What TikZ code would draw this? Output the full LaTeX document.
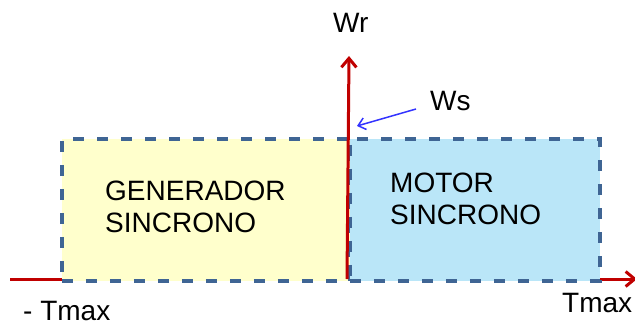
\documentclass[tikz,border=0pt]{standalone}
\usepackage{fontspec}
\setmainfont{Liberation Sans}
\usetikzlibrary{arrows.meta}
\definecolor{axisred}{HTML}{C00000}
\definecolor{edgeblue}{HTML}{3F6594}
\definecolor{genfill}{HTML}{FFFFCC}
\definecolor{motfill}{HTML}{BAE6F8}
\definecolor{wsblue}{HTML}{3333FF}
\begin{document}
\begin{tikzpicture}[x=1pt, y=-1pt,
  axis/.style={axisred, line width=3pt, -{Straight Barb[length=9pt, width=15pt]}},
  zone/.style={draw=edgeblue, line width=3.5pt, dash pattern=on 11pt off 13pt,
    inner sep=0pt, anchor=north west, minimum height=142pt},
  lbl/.style={font=\fontsize{28}{32}\selectfont, inner sep=0pt, align=left}]

  \useasboundingbox (0,0) rectangle (635,325);

  % Torque axis (under the boxes)
  \coordinate (tleft) at (10,279);
  \coordinate (tright) at (637,279);
  \draw[axis] (tleft) -- (tright);

  % Operating zones
  \node[zone, fill=genfill, minimum width=288pt] (gen) at (60,137) {};
  \node[zone, fill=motfill, minimum width=250pt] (mot) at (348,137) {};

  \node[lbl, anchor=west] (gentext) at (105,207) {GENERADOR\\SINCRONO};
  \node[lbl, anchor=west] (mottext) at (390,199) {MOTOR\\SINCRONO};

  % Speed axis
  \coordinate (wbot) at (347,279);
  \coordinate (wtop) at (349,56);
  \draw[axis] (wbot) -- (wtop);

  % Labels
  \node[lbl, anchor=base west] (wr) at (333,32) {Wr};
  \node[lbl, anchor=base west] (ws) at (430,110) {Ws};
  \node[lbl, anchor=base west] (tmax) at (562,312) {Tmax};
  \node[lbl, anchor=base west] (mtmax) at (23,320) {- Tmax};

  % Synchronous speed pointer
  \coordinate (wstail) at (416,109);
  \coordinate (wshead) at (357,126);
  \draw[wsblue, line width=1.5pt, -{Straight Barb[length=7pt, width=12pt]}] (wstail) -- (wshead);

\end{tikzpicture}
\end{document}
